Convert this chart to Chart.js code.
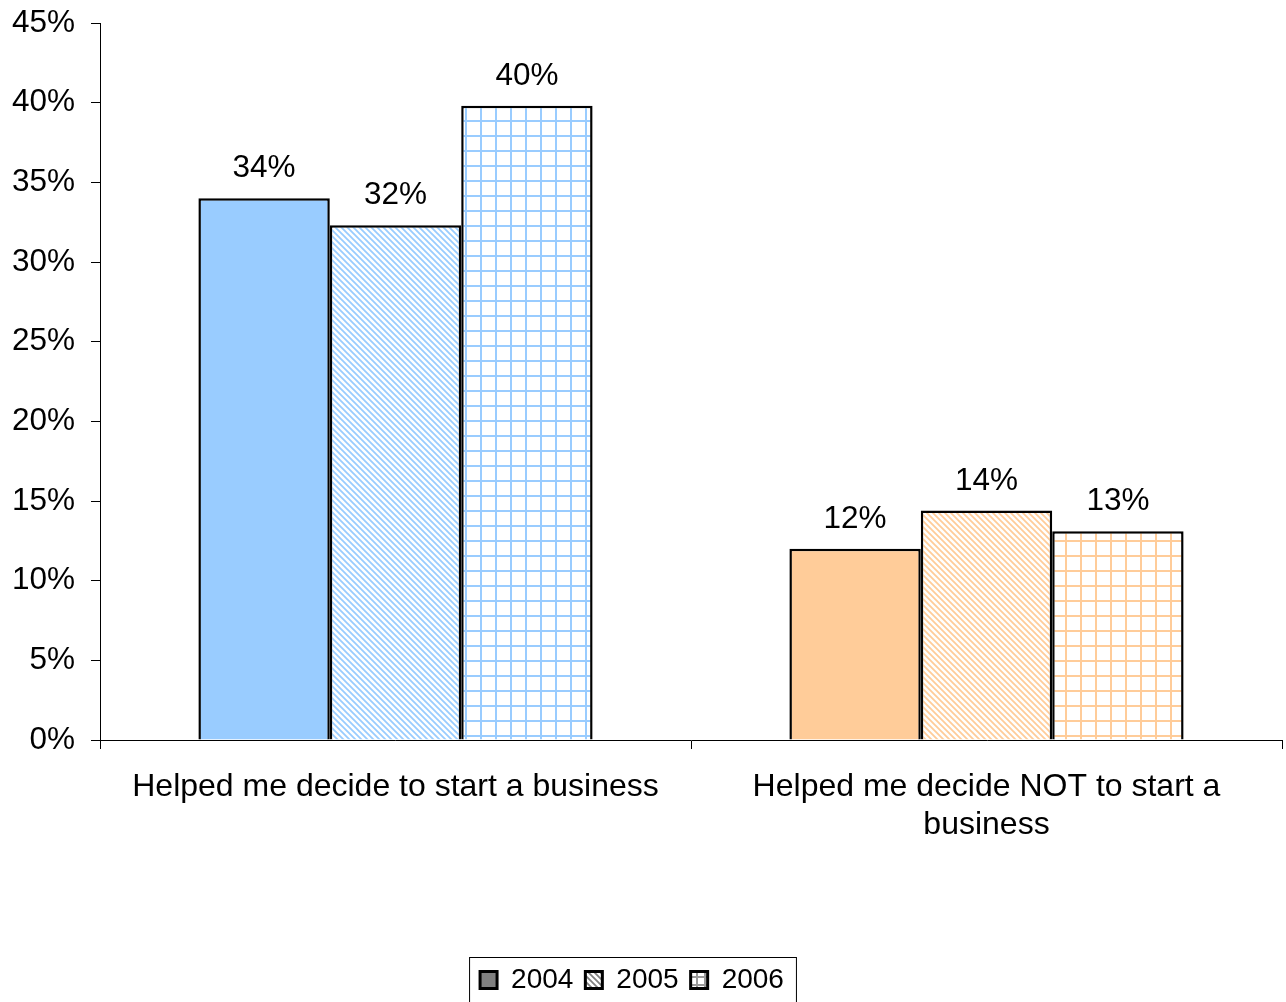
<!DOCTYPE html>
<html>
<head>
<meta charset="utf-8">
<script src="https://cdn.jsdelivr.net/npm/chart.js@4.4.1/dist/chart.umd.min.js"></script>
<style>
  body { margin: 0; background: #fff; }
  #wrap { width: 1286px; height: 1002px; }
</style>
</head>
<body>
<div id="wrap"><canvas id="myChart" width="1286" height="1002"></canvas></div>
<script>
// categories and yearly shares (percent)
var categories = [
    ['Helped me decide to start a business'],
    ['Helped me decide NOT to start a', 'business']
];
var years = ['2004', '2005', '2006'];
var values2004 = [34.0, 12.0];
var values2005 = [32.3, 14.4];
var values2006 = [39.8, 13.1];
var yTicks = [0, 5, 10, 15, 20, 25, 30, 35, 40, 45];

var catColors = ['#99CCFF', '#FFCC99'];

// diagonal hatch ("\") on white
function hatch(color) {
    var c = document.createElement('canvas');
    c.width = 6; c.height = 6;
    var ctx = c.getContext('2d');
    ctx.fillStyle = '#fff';
    ctx.fillRect(0, 0, 6, 6);
    ctx.strokeStyle = color;
    ctx.lineWidth = 1.8;
    ctx.beginPath();
    ctx.moveTo(-1, -1); ctx.lineTo(7, 7);
    ctx.moveTo(-1, 5); ctx.lineTo(1, 7);
    ctx.moveTo(5, -1); ctx.lineTo(7, 1);
    ctx.stroke();
    return ctx.createPattern(c, 'repeat');
}

// square grid on white
function grid(color, size) {
    var c = document.createElement('canvas');
    c.width = size; c.height = size;
    var ctx = c.getContext('2d');
    ctx.fillStyle = '#fff';
    ctx.fillRect(0, 0, size, size);
    ctx.fillStyle = color;
    ctx.fillRect(0, 0, 2, size);
    ctx.fillRect(0, 0, size, 2);
    return ctx.createPattern(c, 'repeat');
}

var fills2004 = catColors.slice();
var fills2005 = catColors.map(function (c) { return hatch(c); });
var fills2006 = catColors.map(function (c) { return grid(c, 15); });

var legendFills = ['#808080', hatch('#808080'), grid('#999999', 8)];

function pct(v) { return Math.round(v) + '%'; }

var FAMILY = '"Liberation Sans", Arial, sans-serif';

// value labels above bars
var barLabels = {
    id: 'barLabels',
    afterDatasetsDraw: function (chart) {
        var ctx = chart.ctx;
        ctx.save();
        ctx.font = '31.5px ' + FAMILY;
        ctx.fillStyle = '#000';
        ctx.textAlign = 'center';
        ctx.textBaseline = 'alphabetic';
        chart.data.datasets.forEach(function (ds, i) {
            chart.getDatasetMeta(i).data.forEach(function (bar, j) {
                ctx.fillText(pct(ds.data[j]), bar.x, bar.y - 21);
            });
        });
        ctx.restore();
    }
};

// legend sits a little left of centre, with a frame round it
var legendFrame = {
    id: 'legendFrame',
    afterLayout: function (chart) {
        chart.legend.left -= 9;
        chart.legend.right -= 9;
        chart.legend.top += 2;
        chart.legend.bottom += 2;
    },
    afterDraw: function (chart) {
        var boxes = chart.legend.legendHitBoxes;
        if (!boxes || !boxes.length) return;
        var first = boxes[0], last = boxes[boxes.length - 1];
        var ctx = chart.ctx;
        ctx.save();
        ctx.strokeStyle = '#000';
        ctx.lineWidth = 1;
        var x1 = first.left - 10.5, x2 = last.left + last.width + 12.5;
        var y1 = first.top - 8.5;
        ctx.strokeRect(x1, y1, x2 - x1, chart.height - y1 + 5);
        ctx.restore();
    }
};

var data = {
    labels: categories,
    datasets: [
        { label: years[0], data: values2004, backgroundColor: fills2004, borderColor: '#000', borderWidth: 2.5 },
        { label: years[1], data: values2005, backgroundColor: fills2005, borderColor: '#000', borderWidth: 2.5 },
        { label: years[2], data: values2006, backgroundColor: fills2006, borderColor: '#000', borderWidth: 2.5 }
    ]
};

var tickFont = { family: FAMILY, size: 31.5 };
var catFont = { family: FAMILY, size: 32 };
var legendFont = { family: FAMILY, size: 28 };

var config = {
    type: 'bar',
    data: data,
    options: {
        responsive: false,
        animation: false,
        layout: { padding: { top: 23, right: 4, left: 0, bottom: 0 } },
        datasets: { bar: { categoryPercentage: 0.667, barPercentage: 1.0 } },
        scales: {
            x: {
                grid: { offset: true, drawOnChartArea: false, drawTicks: true, tickLength: 9, color: '#000' },
                border: { color: '#000', width: 1 },
                ticks: { color: '#000', font: catFont, padding: 19, maxRotation: 0, autoSkip: false },
                afterFit: function (scale) { scale.height = 212; }
            },
            y: {
                min: 0,
                max: 45,
                grid: { drawOnChartArea: false, drawTicks: true, tickLength: 9, color: '#000' },
                border: { color: '#000', width: 1 },
                ticks: {
                    color: '#000', font: tickFont, padding: 16,
                    stepSize: 5,
                    callback: function (v) { return yTicks.indexOf(v) >= 0 ? v + '%' : ''; }
                },
                afterFit: function (scale) {
                    scale.width = 100;
                    scale.paddingTop = 0;
                    scale.paddingBottom = 0;
                }
            }
        },
        plugins: {
            tooltip: { enabled: false },
            legend: {
                position: 'bottom',
                labels: {
                    color: '#000',
                    font: legendFont,
                    boxWidth: 17,
                    boxHeight: 17,
                    padding: 12,
                    generateLabels: function (chart) {
                        return years.map(function (y, i) {
                            return {
                                text: y,
                                fillStyle: legendFills[i],
                                strokeStyle: '#000',
                                lineWidth: 3,
                                hidden: false,
                                datasetIndex: i
                            };
                        });
                    }
                }
            }
        }
    },
    plugins: [barLabels, legendFrame]
};

const myChart = new Chart(document.getElementById('myChart'), config);
</script>
</body>
</html>
